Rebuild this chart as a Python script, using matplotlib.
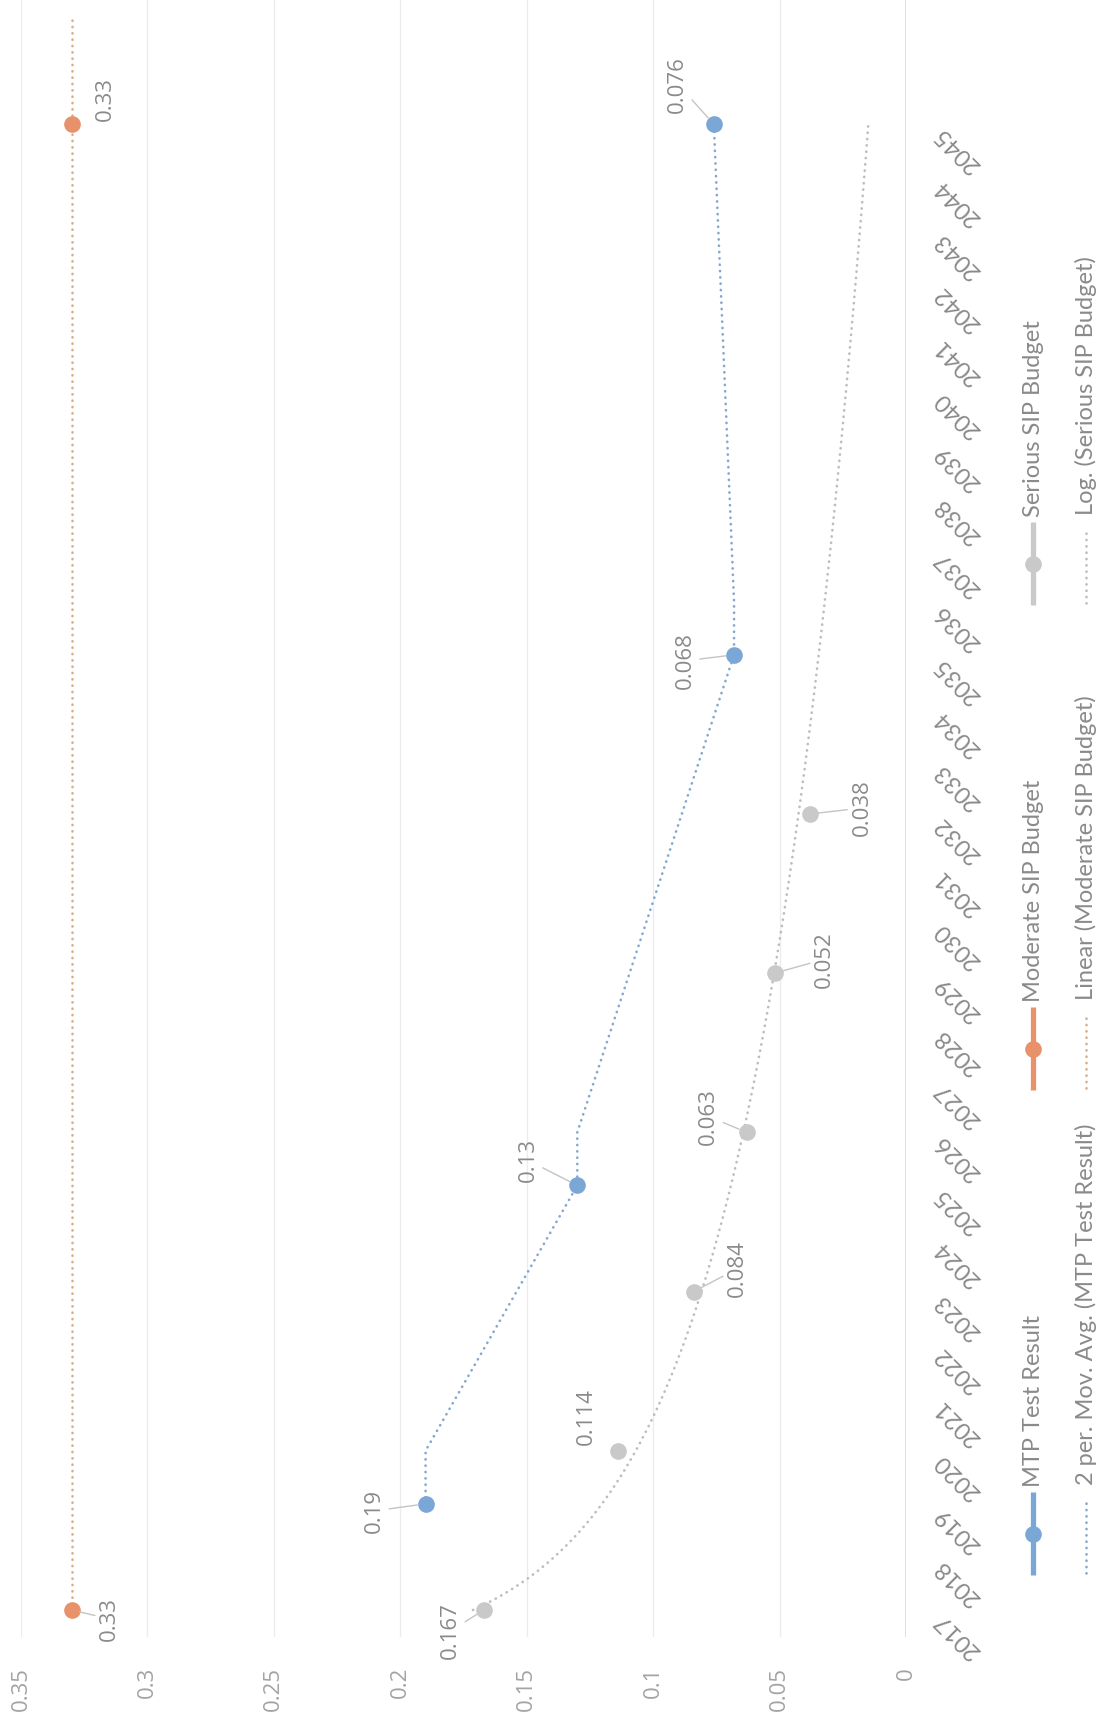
import numpy as np
import pandas as pd
import matplotlib
matplotlib.use('Agg')
import matplotlib.pyplot as plt
from matplotlib.lines import Line2D

# ---- data ----
years = list(range(2017, 2046))

mtp_years = [2019, 2025, 2035, 2045]
mtp_vals = [0.19, 0.13, 0.068, 0.076]

moderate_years = [2017, 2045]
moderate_vals = [0.33, 0.33]

serious_years = [2017, 2020, 2023, 2026, 2029, 2032]
serious_vals = [0.167, 0.114, 0.084, 0.063, 0.052, 0.038]

value_ticks = [0, 0.05, 0.1, 0.15, 0.2, 0.25, 0.3, 0.35]
value_tick_labels = ['0', '0.05', '0.1', '0.15', '0.2', '0.25', '0.3', '0.35']

series_names = ['MTP Test Result', 'Moderate SIP Budget', 'Serious SIP Budget']
trend_names = ['2 per. Mov. Avg. (MTP Test Result)', 'Linear (Moderate SIP Budget)',
               'Log. (Serious SIP Budget)']

# label offsets in pixels (dx right, dy up) from each point, and leader line on/off
mtp_label_off = [(-51, -7), (-49, 25), (-49, -6), (-36, 40)]
mtp_leader = [True, True, True, True]
moderate_label_off = [(38, -9), (34, 25)]
moderate_leader = [True, False]
serious_label_off = [(-33, -21), (-31, 34), (44, 23), (-38, 16), (50, 14), (52, 6)]
serious_leader = [True, False, True, True, True, True]

blue = '#7BA7D6'
orange = '#E8926C'
grey = '#C9C9C9'
blue_tr = '#86A8D0'
orange_tr = '#D9AF8B'
grey_tr = '#BDBDBD'
txt = '#8A8A8A'

W, H = 1102, 1721
fig = plt.figure(figsize=(W / 100, H / 100), dpi=100)
ax = fig.add_axes([21 / W, 1 - 1636.5 / H, 885 / W, 1636.5 / H])

dots = dict(lw=1.9, linestyle=(0, (0.1, 2.3)), dash_capstyle='round')

# category index (1..n) like the spreadsheet uses for trendlines
def idx(y):
    return np.asarray(y, dtype=float) - years[0] + 1

# log trendline on serious budget
b, a = np.polyfit(np.log(idx(serious_years)), serious_vals, 1)
t_idx = np.linspace(1, len(years), 400)
ax.plot(a + b * np.log(t_idx), t_idx + years[0] - 1, color=grey_tr, zorder=2, **dots)

# linear trendline on moderate budget, 2 periods forward
m1, m0 = np.polyfit(idx(moderate_years), moderate_vals, 1)
l_idx = np.arange(1, len(years) + 3)
ax.plot(m0 + m1 * l_idx, l_idx + years[0] - 1, color=orange_tr, zorder=2, **dots)

# 2 period moving average on MTP (blanks skipped)
mtp_full = pd.Series(np.nan, index=years)
mtp_full.loc[mtp_years] = mtp_vals
ma = mtp_full.rolling(2, min_periods=1).mean().dropna()
ax.plot(ma.values, ma.index.values, color=blue_tr, zorder=2, **dots)

# markers
ax.plot(mtp_vals, mtp_years, 'o', color=blue, ms=12, mec='none', zorder=4)
ax.plot(moderate_vals, moderate_years, 'o', color=orange, ms=12, mec='none', zorder=4)
ax.plot(serious_vals, serious_years, 'o', color=grey, ms=12, mec='none', zorder=4)

# data labels
def add_labels(xs, ys, offs, leaders):
    for v, yr, (dx, dy), lead in zip(xs, ys, offs, leaders):
        arrow = dict(arrowstyle='-', color='#C4C4C4', lw=1, shrinkA=1, shrinkB=6) if lead else None
        ax.annotate(f'{v:g}', xy=(v, yr), xytext=(dx, dy), textcoords='offset pixels',
                    rotation=90, ha='center', va='center', fontsize=16, color=txt,
                    family='Open Sans', arrowprops=arrow, zorder=5)

add_labels(mtp_vals, mtp_years, mtp_label_off, mtp_leader)
add_labels(moderate_vals, moderate_years, moderate_label_off, moderate_leader)
add_labels(serious_vals, serious_years, serious_label_off, serious_leader)

# axes styling
ax.set_xlim(0.35, 0)
ax.set_ylim(2016.5, 2047.34)
ax.set_xticks(value_ticks)
ax.set_xticklabels(value_tick_labels, rotation=90, fontsize=16, color='#A3A3A3',
                   family='Open Sans')
ax.tick_params(axis='x', length=0, pad=22)
ax.set_yticks([])
ax.grid(axis='x', color='#ECECEC', lw=1)
ax.set_axisbelow(True)
for s in ax.spines.values():
    s.set_visible(False)
ax.axvline(0, color='#DCDCDC', lw=1.2, zorder=1)

# year labels, rotated, hanging off the zero line
for yr in years:
    ax.annotate(str(yr), xy=(0, yr), xytext=(51, -25), textcoords='offset pixels',
                rotation=135, rotation_mode='anchor', ha='center', va='center',
                fontsize=17, color=txt, family='Lato', annotation_clip=False)

# legend, rotated with the chart
def fpos(x, y):
    return x / W, 1 - y / H

leg_cols = [1575, 1090, 605]
for name, col, bot in zip(series_names, [blue, orange, grey], leg_cols):
    x0, y0 = fpos(1033, bot)
    x1, y1 = fpos(1033, bot - 83)
    fig.add_artist(Line2D([x0, x1], [y0, y1], color=col, lw=3.8, solid_capstyle='butt'))
    fig.add_artist(Line2D([x0], [(y0 + y1) / 2], marker='o', color=col, ms=12, mec='none'))
    tx, ty = fpos(1033, bot - 88)
    fig.text(tx, ty, name, rotation=90, rotation_mode='anchor', ha='left', va='center',
             fontsize=17, color=txt, family='Lato')

for name, col, bot in zip(trend_names, [blue_tr, orange_tr, grey_tr], leg_cols):
    x0, y0 = fpos(1086, bot - 2)
    x1, y1 = fpos(1086, bot - 78)
    fig.add_artist(Line2D([x0, x1], [y0, y1], color=col, **dots))
    tx, ty = fpos(1086, bot - 90)
    fig.text(tx, ty, name, rotation=90, rotation_mode='anchor', ha='left', va='center',
             fontsize=17, color=txt, family='Lato')

fig.savefig('out.png', dpi=100, facecolor='white')
